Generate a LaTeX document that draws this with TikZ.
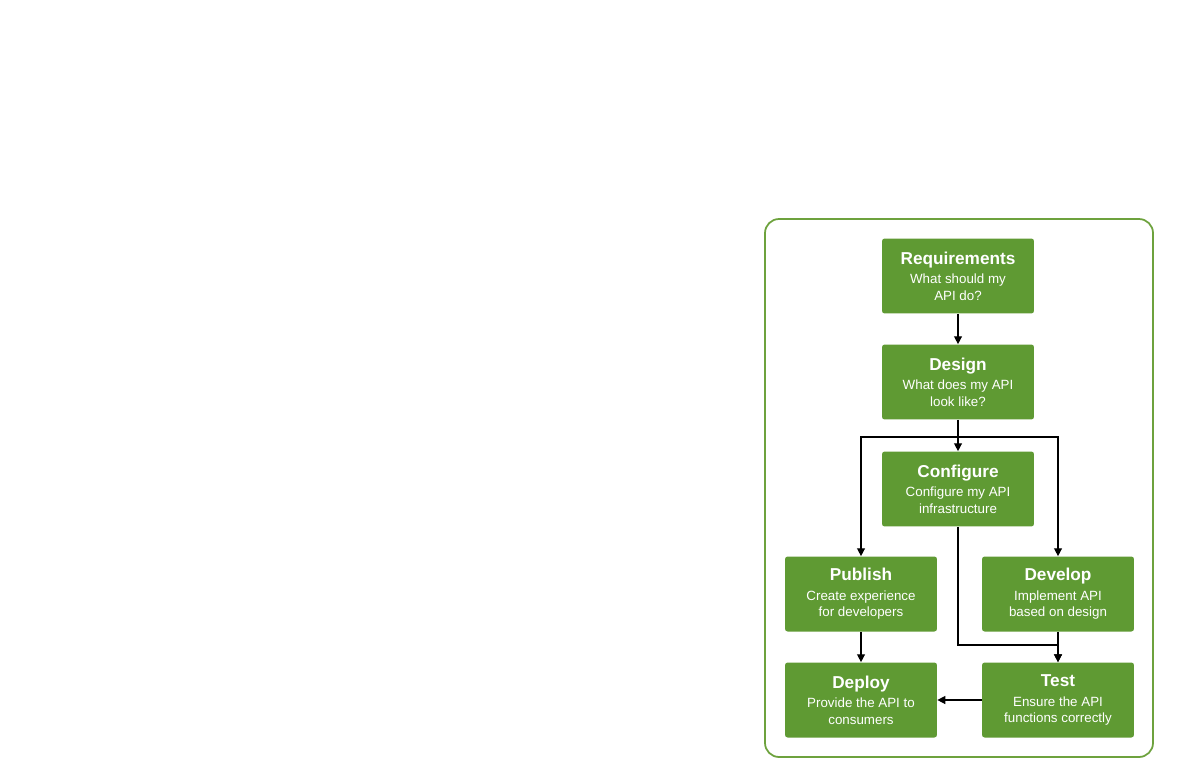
\documentclass[tikz,border=0pt]{standalone}
\usepackage{fontspec}
\setmainfont{Liberation Sans}
\usetikzlibrary{arrows.meta}
\definecolor{apigreen}{HTML}{5F9A33}
\definecolor{frame}{HTML}{6DA23D}
\begin{document}
\begin{tikzpicture}[x=0.02cm, y=-0.02cm,
    stage/.style={fill=apigreen, rounded corners=1.5pt, minimum width=3.04cm, minimum height=1.5cm,
        text=white, align=center, font=\fontsize{7.6}{9.2}\selectfont},
    flow/.style={-{Triangle[length=4.5pt,width=4.5pt]}, line width=0.8pt}]
    \useasboundingbox (0,0) rectangle (1200,764);
    \draw[frame, line width=1pt, rounded corners=8pt] (765,219) rectangle (1153,757);

    \node[stage] (req) at (958,276) {{\fontsize{9.8}{12.5}\selectfont\bfseries Requirements}\\[2pt]What should my\\API do?};
    \node[stage] (des) at (958,382) {{\fontsize{9.8}{12.5}\selectfont\bfseries Design}\\[2pt]What does my API\\look like?};
    \node[stage] (conf) at (958,489) {{\fontsize{9.8}{12.5}\selectfont\bfseries Configure}\\[2pt]Configure my API\\infrastructure};
    \node[stage] (pub) at (861,594) {{\fontsize{9.8}{12.5}\selectfont\bfseries Publish}\\[2pt]Create experience\\for developers};
    \node[stage] (dev) at (1058,594) {{\fontsize{9.8}{12.5}\selectfont\bfseries Develop}\\[2pt]Implement API\\based on design};
    \node[stage] (dep) at (861,700) {{\fontsize{9.8}{12.5}\selectfont\bfseries Deploy}\\[2pt]Provide the API to\\consumers};
    \node[stage] (test) at (1058,700) {{\fontsize{9.8}{12.5}\selectfont\bfseries Test}\\[2pt]Ensure the API\\functions correctly};

    \coordinate (split) at (958,437);
    \coordinate (join) at (958,645);

    \draw[flow] (req) -- (des);
    \draw[flow] (des) -- (conf);
    \draw[flow] (split) -| (pub);
    \draw[flow] (split) -| (dev);
    \draw[flow] (conf) -- (join) -| (test);
    \draw[flow] (dev) -- (test);
    \draw[flow] (pub) -- (dep);
    \draw[flow] (test) -- (dep);
\end{tikzpicture}
\end{document}
